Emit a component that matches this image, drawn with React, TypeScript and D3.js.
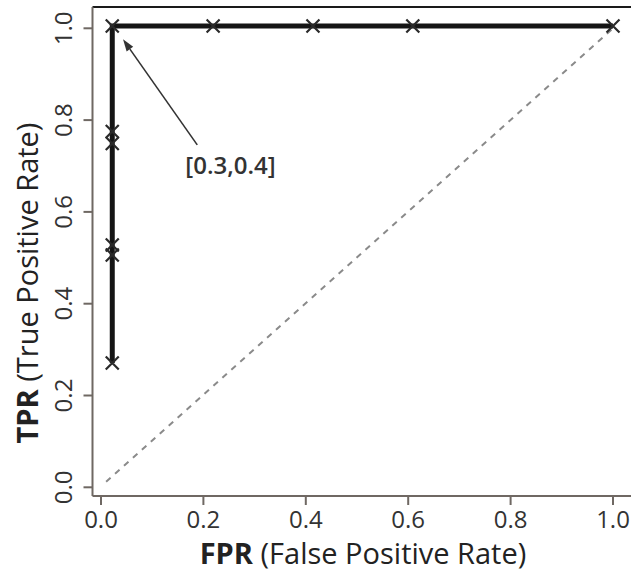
import React from "react";
import * as d3 from "d3";

const fprValues = [0.022, 0.022, 0.022, 0.022, 0.022, 0.022, 0.219, 0.414, 0.609, 1.0];
const tprValues = [0.271, 0.506, 0.528, 0.749, 0.775, 1.005, 1.005, 1.005, 1.005, 1.005];
const xTicks = [0, 0.2, 0.4, 0.6, 0.8, 1.0];
const yTicks = [0, 0.2, 0.4, 0.6, 0.8, 1.0];
const diagonal = [
  [0.01, 0.012],
  [1.0, 1.0],
];
const annotationText = "[0.3,0.4]";
const arrowFrom = [0.188, 0.746];
const arrowTo = [0.043, 0.976];
const labelPos = [0.253, 0.682];

const W = 631;
const H = 571;
const FONT = "'Open Sans', 'Noto Sans', sans-serif";

export default function App() {
  const x = d3.scaleLinear().domain([0, 1]).range([101, 613]);
  const y = d3.scaleLinear().domain([0, 1]).range([487.3, 28.3]);
  const pts: [number, number][] = fprValues.map((f, i) => [f, tprValues[i]]);
  const line = d3
    .line<[number, number]>()
    .x((d) => x(d[0]))
    .y((d) => y(d[1]));

  const axisColor = "#6f6863";
  const leftX = 92.5;
  const bottomY = 496;
  const topY = 7;

  const ax1 = x(arrowFrom[0]);
  const ay1 = y(arrowFrom[1]);
  const ax2 = x(arrowTo[0]);
  const ay2 = y(arrowTo[1]);
  const ang = Math.atan2(ay2 - ay1, ax2 - ax1);
  const headLen = 12;
  const headW = 4;
  const bx = ax2 - headLen * Math.cos(ang);
  const by = ay2 - headLen * Math.sin(ang);
  const px = -Math.sin(ang) * headW;
  const py = Math.cos(ang) * headW;

  return (
    <svg
      width={W}
      height={H}
      style={{ position: "absolute", left: 0, top: 0, background: "#fff" }}
      fontFamily={FONT}
    >
      <rect x={0} y={0} width={W} height={H} fill="#fff" />
      {/* frame */}
      <line x1={leftX} x2={W} y1={topY} y2={topY} stroke="#1a1a1a" strokeWidth={2} />
      <line x1={leftX} x2={leftX} y1={topY} y2={bottomY} stroke={axisColor} strokeWidth={2} />
      <line x1={leftX} x2={W} y1={bottomY} y2={bottomY} stroke={axisColor} strokeWidth={2} />
      {/* x ticks */}
      {xTicks.map((t) => (
        <g key={"x" + t}>
          <line x1={x(t)} x2={x(t)} y1={bottomY} y2={bottomY + 9} stroke={axisColor} strokeWidth={2} />
          <text x={x(t)} y={528} textAnchor="middle" fontSize={24} fill="#333">
            {d3.format(".1f")(t)}
          </text>
        </g>
      ))}
      {/* y ticks */}
      {yTicks.map((t) => (
        <g key={"y" + t}>
          <line x1={leftX - 9} x2={leftX} y1={y(t)} y2={y(t)} stroke={axisColor} strokeWidth={2} />
          <text
            transform={`translate(72,${y(t)}) rotate(-90)`}
            textAnchor="middle"
            fontSize={24}
            fill="#333"
          >
            {d3.format(".1f")(t)}
          </text>
        </g>
      ))}
      {/* axis titles */}
      <text x={363} y={564} textAnchor="middle" fontSize={29} fill="#222">
        <tspan fontWeight={700}>FPR</tspan>
        <tspan> (False Positive Rate)</tspan>
      </text>
      <text
        transform={`translate(38,283) rotate(-90)`}
        textAnchor="middle"
        fontSize={29}
        fill="#222"
      >
        <tspan fontWeight={700}>TPR</tspan>
        <tspan> (True Positive Rate)</tspan>
      </text>
      {/* diagonal */}
      <line
        x1={x(diagonal[0][0])}
        y1={y(diagonal[0][1])}
        x2={x(diagonal[1][0])}
        y2={y(diagonal[1][1])}
        stroke="#8a8a8a"
        strokeWidth={2}
        strokeDasharray="6,6"
      />
      {/* ROC curve */}
      <path d={line(pts) || ""} fill="none" stroke="#151515" strokeWidth={5} />
      {pts.map((p, i) => {
        const cx = x(p[0]);
        const cy = y(p[1]);
        const s = 6.5;
        return (
          <path
            key={"m" + i}
            d={`M${cx - s},${cy - s}L${cx + s},${cy + s}M${cx - s},${cy + s}L${cx + s},${cy - s}`}
            stroke="#2a2a2a"
            strokeWidth={2.2}
            fill="none"
          />
        );
      })}
      {/* annotation */}
      <line x1={ax1} y1={ay1} x2={bx} y2={by} stroke="#333" strokeWidth={1.6} />
      <path
        d={`M${ax2},${ay2}L${bx + px},${by + py}L${bx - px},${by - py}Z`}
        fill="#333"
      />
      <text x={x(labelPos[0])} y={y(labelPos[1])} textAnchor="middle" fontSize={24} fontWeight={600} fill="#333">
        {annotationText}
      </text>
    </svg>
  );
}
